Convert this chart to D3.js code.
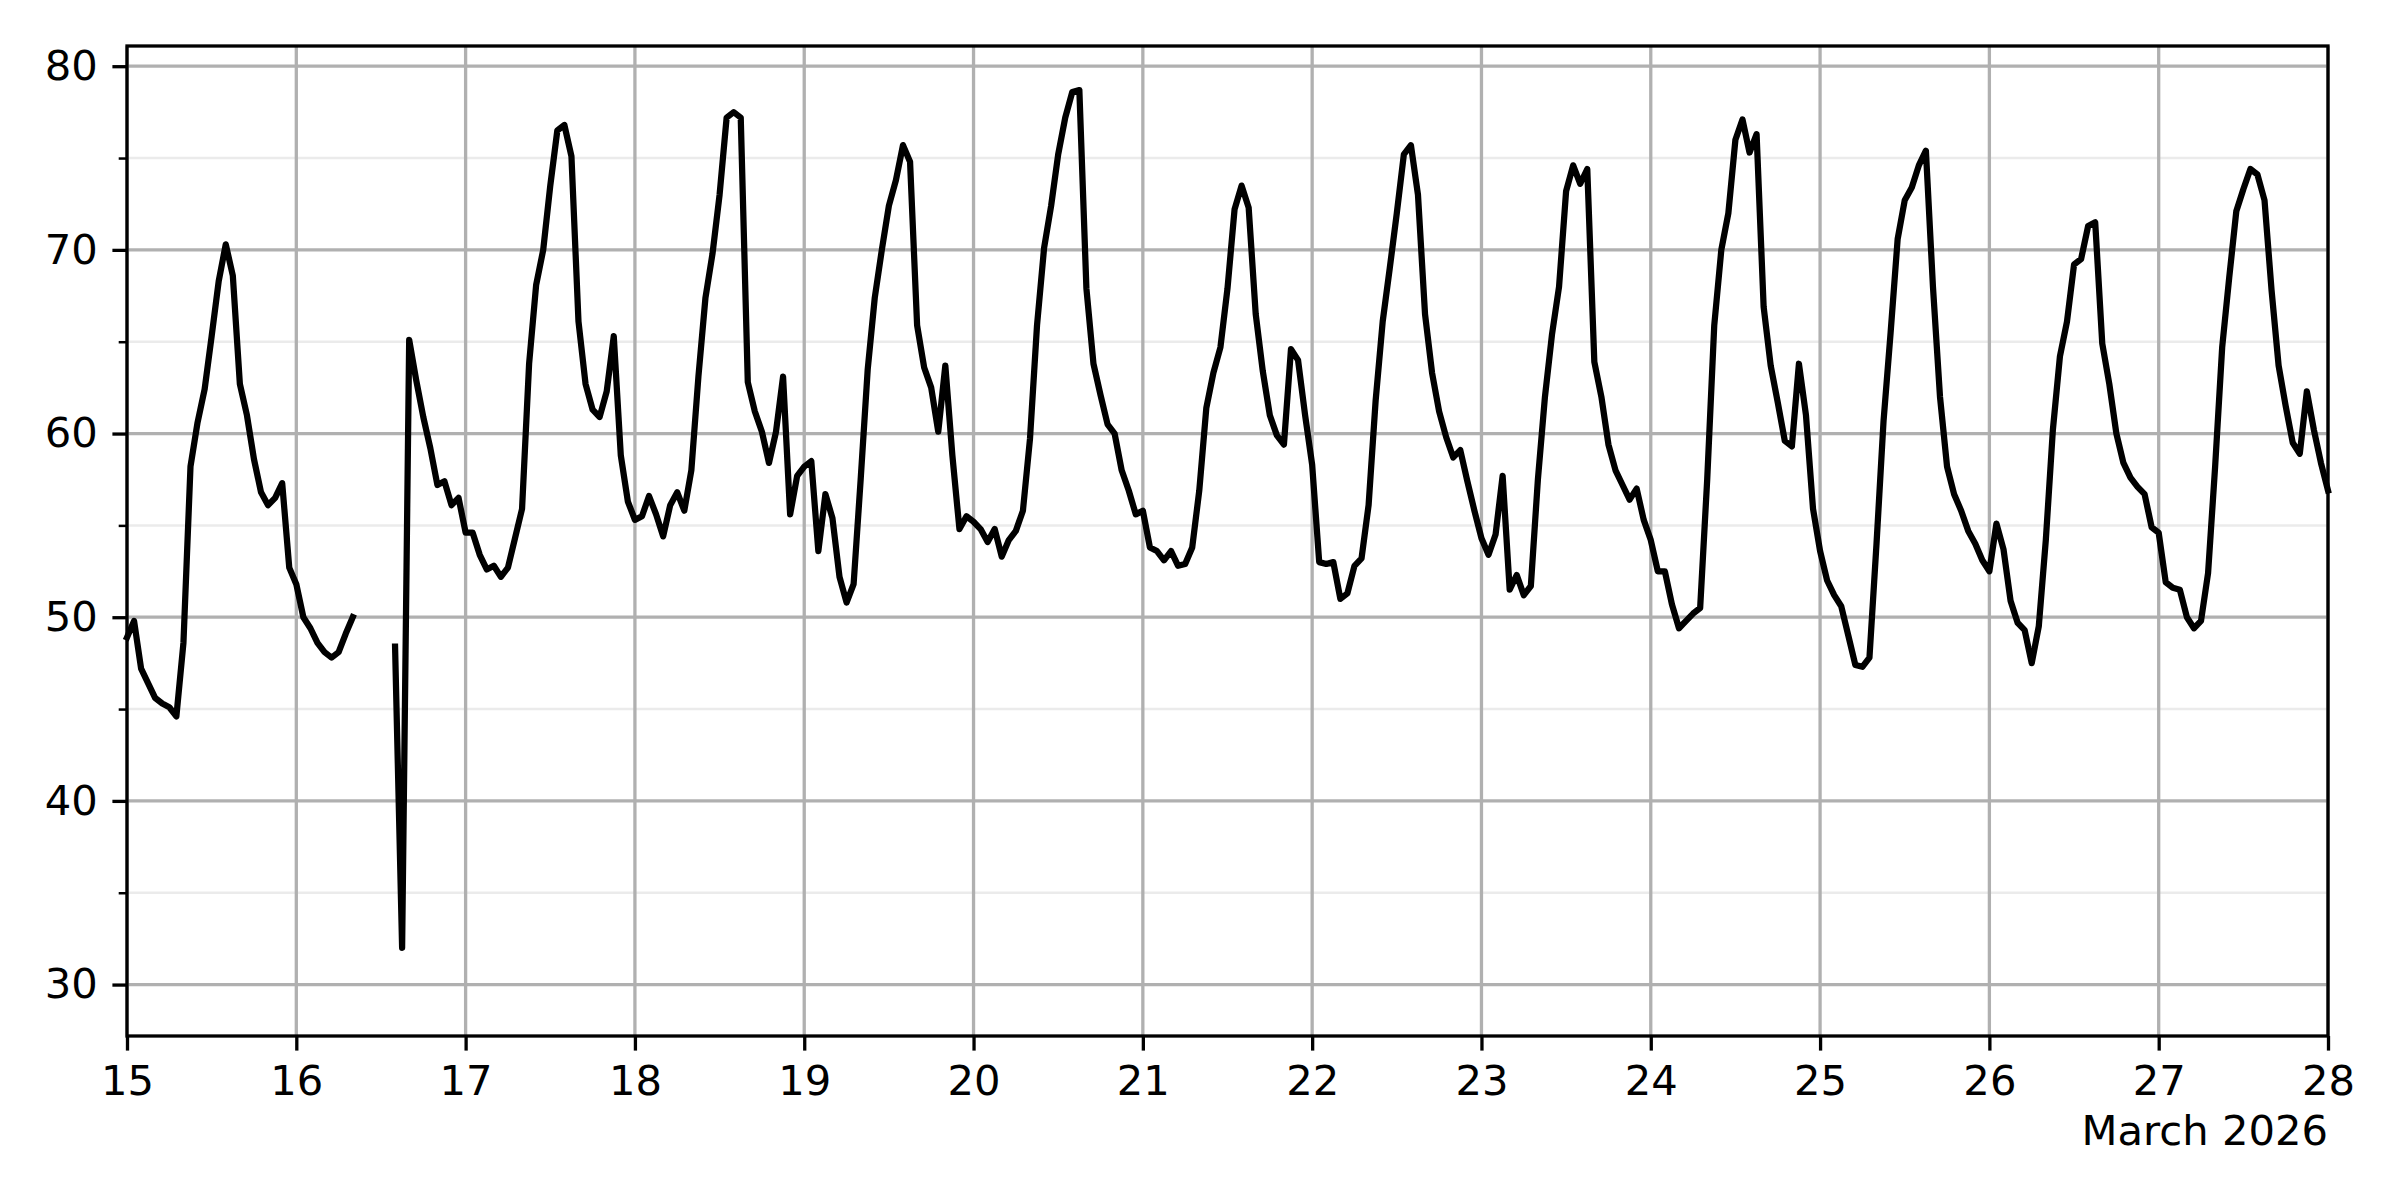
<!DOCTYPE html>
<html>
<head>
<meta charset="utf-8">
<script src="https://cdn.jsdelivr.net/npm/d3@7"></script>
<style>
  body { margin: 0; background: #fff; }
  text { font-family: "DejaVu Sans", sans-serif; }
</style>
</head>
<body>
<div id="chart"></div>
<script>
"use strict"

// hourly readings, one array per day of March 2026 (00:00 .. 23:00), null = no reading
const mar15 = [48.9, 49.8, 47.2, 46.4, 45.6, 45.3, 45.1, 44.6, 48.6, 58.2, 60.6, 62.4,
               65.3, 68.3, 70.3, 68.6, 62.7, 61.0, 58.6, 56.8, 56.1, 56.5, 57.3, 52.7];
const mar16 = [51.8, 50.0, 49.4, 48.6, 48.1, 47.8, 48.1, 49.1, 50.0, null, null, null,
               null, null, 48.4, 32.0, 65.1, 62.9, 60.9, 59.2, 57.2, 57.4, 56.1, 56.5];
const mar17 = [54.6, 54.6, 53.4, 52.6, 52.8, 52.2, 52.7, 54.3, 55.9, 63.8, 68.1, 70.0,
               73.5, 76.5, 76.8, 75.1, 66.1, 62.7, 61.3, 60.9, 62.3, 65.3, 58.8, 56.3];
const mar18 = [55.3, 55.5, 56.6, 55.6, 54.4, 56.1, 56.8, 55.8, 58.0, 63.1, 67.4, 69.8,
               73.0, 77.2, 77.5, 77.2, 62.8, 61.2, 60.1, 58.4, 60.1, 63.1, 55.6, 57.7];
const mar19 = [58.2, 58.5, 53.6, 56.7, 55.4, 52.2, 50.8, 51.8, 57.5, 63.5, 67.4, 70.0,
               72.4, 73.8, 75.7, 74.8, 65.9, 63.6, 62.5, 60.1, 63.7, 58.8, 54.8, 55.5];
const mar20 = [55.2, 54.8, 54.1, 54.8, 53.3, 54.2, 54.7, 55.8, 59.7, 65.9, 70.1, 72.4,
               75.2, 77.2, 78.6, 78.7, 67.9, 63.8, 62.1, 60.5, 60.0, 58.0, 56.9, 55.6];
const mar21 = [55.8, 53.8, 53.6, 53.1, 53.6, 52.8, 52.9, 53.8, 56.9, 61.4, 63.3, 64.7,
               67.9, 72.2, 73.5, 72.3, 66.5, 63.4, 61.0, 59.9, 59.4, 64.6, 64.0, 61.0];
const mar22 = [58.3, 53.0, 52.9, 53.0, 51.0, 51.3, 52.8, 53.2, 56.1, 61.8, 66.1, 69.0,
               72.0, 75.2, 75.7, 73.0, 66.5, 63.3, 61.2, 59.8, 58.7, 59.1, 57.4, 55.8];
const mar23 = [54.3, 53.4, 54.5, 57.7, 51.5, 52.3, 51.2, 51.7, 57.5, 62.0, 65.4, 68.0,
               73.2, 74.6, 73.6, 74.4, 63.9, 62.0, 59.4, 58.0, 57.2, 56.4, 57.0, 55.3];
const mar24 = [54.2, 52.5, 52.5, 50.7, 49.4, 49.8, 50.2, 50.5, 57.5, 65.9, 70.0, 72.0,
               76.0, 77.1, 75.3, 76.3, 66.9, 63.7, 61.7, 59.6, 59.3, 63.8, 61.0, 55.9];
const mar25 = [53.6, 52.0, 51.2, 50.6, 49.0, 47.4, 47.3, 47.8, 54.0, 60.7, 65.5, 70.6,
               72.7, 73.4, 74.6, 75.4, 68.0, 62.0, 58.2, 56.7, 55.8, 54.7, 54.0, 53.1];
const mar26 = [52.5, 55.1, 53.7, 50.9, 49.7, 49.3, 47.5, 49.5, 54.2, 60.2, 64.2, 66.1,
               69.2, 69.5, 71.3, 71.5, 64.9, 62.7, 60.0, 58.4, 57.6, 57.1, 56.7, 54.9];
const mar27 = [54.6, 51.9, 51.6, 51.5, 50.0, 49.4, 49.8, 52.4, 58.2, 64.7, 68.5, 72.1,
               73.3, 74.4, 74.1, 72.7, 67.8, 63.7, 61.5, 59.5, 58.9, 62.3, 60.2, 58.4];
const mar28 = [56.9];

const dayArrays = [mar15, mar16, mar17, mar18, mar19, mar20, mar21,
                   mar22, mar23, mar24, mar25, mar26, mar27, mar28];
const startDate = new Date(Date.UTC(2026, 2, 15));
const endDate = new Date(Date.UTC(2026, 2, 28));
const yMajorTicks = [30, 40, 50, 60, 70, 80];
const yMinorTicks = [35, 45, 55, 65, 75];
const offsetLabel = "March 2026";

let margin = {top: 46, right: 72, bottom: 164, left: 127};
let width = 2400 - margin.left - margin.right,
    height = 1200 - margin.top - margin.bottom;

let fontSize = 41.7;
let majorTick = 14.6, minorTick = 8.3, tickPad = 14.6;

let svg = d3.select("#chart")
            .append("svg")
            .attr("width", 2400)
            .attr("height", 1200)
            .append("g")
            .attr("transform", "translate(" + margin.left + "," + margin.top + ")");

let points = [];
dayArrays.forEach(function(arr, i) {
  arr.forEach(function(v, h) {
    points.push({t: d3.utcHour.offset(startDate, i * 24 + h), v: v});
  });
});

let x = d3.scaleUtc()
          .domain([startDate, endDate])
          .range([0, width]);

let y = d3.scaleLinear()
          .domain([27.2, 81.1])
          .range([height, 0]);

let days = d3.utcDay.range(startDate, d3.utcDay.offset(endDate, 1));

// grid
svg.append("g")
   .selectAll("line")
   .data(yMinorTicks)
   .enter().append("line")
   .attr("x1", 0).attr("x2", width)
   .attr("y1", d => y(d)).attr("y2", d => y(d))
   .style("stroke", "#ebebeb")
   .style("stroke-width", 2.5);

svg.append("g")
   .selectAll("line")
   .data(yMajorTicks)
   .enter().append("line")
   .attr("x1", 0).attr("x2", width)
   .attr("y1", d => y(d)).attr("y2", d => y(d))
   .style("stroke", "#b0b0b0")
   .style("stroke-width", 3.3);

svg.append("g")
   .selectAll("line")
   .data(days)
   .enter().append("line")
   .attr("x1", d => x(d)).attr("x2", d => x(d))
   .attr("y1", 0).attr("y2", height)
   .style("stroke", "#b0b0b0")
   .style("stroke-width", 3.3);

// series
let line = d3.line()
             .defined(d => d.v != null)
             .x(d => x(d.t))
             .y(d => y(d.v));

svg.append("path")
   .datum(points)
   .attr("d", line)
   .style("fill", "none")
   .style("stroke", "#000")
   .style("stroke-width", 6.25)
   .style("stroke-linejoin", "round")
   .style("stroke-linecap", "square");

// axes
let xAxis = svg.append("g")
   .attr("transform", "translate(0," + height + ")")
   .call(d3.axisBottom(x)
           .tickValues(days)
           .tickFormat(d3.utcFormat("%-d"))
           .tickSize(majorTick)
           .tickPadding(tickPad));

let yAxis = svg.append("g")
   .call(d3.axisLeft(y)
           .tickValues(yMajorTicks)
           .tickSize(majorTick)
           .tickPadding(tickPad));

let yMinor = svg.append("g")
   .call(d3.axisLeft(y)
           .tickValues(yMinorTicks)
           .tickSize(minorTick)
           .tickFormat(""));

[xAxis, yAxis, yMinor].forEach(function(g) {
  g.select(".domain").remove();
  g.selectAll("text")
   .style("font-family", "'DejaVu Sans', sans-serif")
   .style("font-size", fontSize + "px")
   .style("fill", "#000");
});
xAxis.selectAll("line").style("stroke", "#000").style("stroke-width", 3.3);
yAxis.selectAll("line").style("stroke", "#000").style("stroke-width", 3.3);
yMinor.selectAll("line").style("stroke", "#000").style("stroke-width", 2.5);

svg.append("text")
   .attr("x", width)
   .attr("y", height + 109)
   .attr("text-anchor", "end")
   .style("font-size", fontSize + "px")
   .style("fill", "#000")
   .text(offsetLabel);

// frame
svg.append("rect")
   .attr("x", 0).attr("y", 0)
   .attr("width", width).attr("height", height)
   .style("fill", "none")
   .style("stroke", "#000")
   .style("stroke-width", 3.3);
</script>
</body>
</html>
